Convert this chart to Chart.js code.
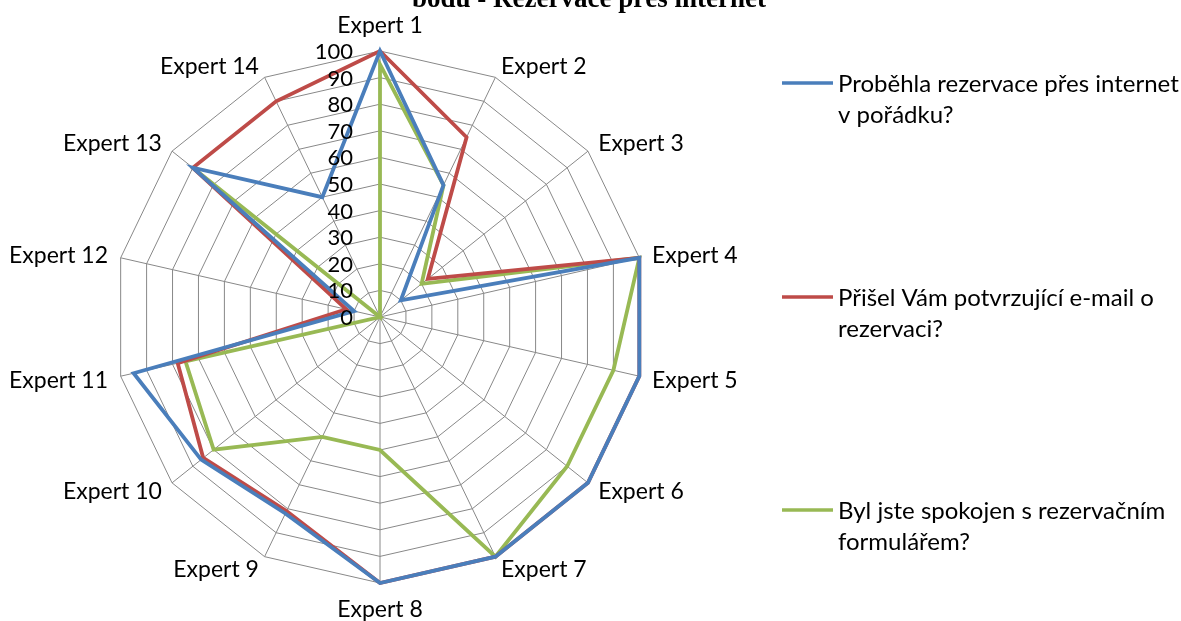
<!DOCTYPE html>
<html>
<head>
<meta charset="utf-8">
<script src="https://cdn.jsdelivr.net/npm/chart.js@4.4.0/dist/chart.umd.min.js"></script>
<style>
  html, body { margin: 0; padding: 0; background: #ffffff; }
  #wrap { width: 1181px; height: 621px; position: relative; overflow: hidden; }
</style>
</head>
<body>
<div id="wrap"><canvas id="chart" width="1181" height="621"></canvas></div>
<script>
// Experts on the radar axes
const categories = ['Expert 1', 'Expert 2', 'Expert 3', 'Expert 4', 'Expert 5', 'Expert 6', 'Expert 7',
                    'Expert 8', 'Expert 9', 'Expert 10', 'Expert 11', 'Expert 12', 'Expert 13', 'Expert 14'];

// Score tick labels on the radial axis
const tickValues = [0, 10, 20, 30, 40, 50, 60, 70, 80, 90, 100];

// Series names (wrapped over two lines in the legend)
const seriesNames = [
  ['Proběhla rezervace přes internet', 'v pořádku?'],
  ['Přišel Vám potvrzující e-mail o', 'rezervaci?'],
  ['Byl jste spokojen s rezervačním', 'formulářem?']
];

// Points given by each expert
const rezervaceOk      = [100, 55, 10, 100, 100, 100, 100, 100, 82, 86, 95, 10, 90, 50];
const potvrzujiciEmail = [100, 75, 23, 100, 100, 100, 100, 100, 81, 85, 78, 13, 90, 90];
const spokojenFormular = [ 95, 55, 20, 100,  90,  90, 100,  50, 50, 80, 75,  0, 90,  0];

const seriesColors = ['#4A7EBB', '#BE4B48', '#98B954'];
const titleText = 'bodů - Rezervace přes internet';

const labelFont = 'Lato';
const gridColor = '#888888';

// Title at the top edge of the page
const titlePlugin = {
  id: 'topTitle',
  afterDraw(chart) {
    const ctx = chart.ctx;
    ctx.save();
    ctx.font = 'bold 27px "Liberation Serif", "Times New Roman", serif';
    ctx.fillStyle = '#000';
    ctx.textAlign = 'center';
    ctx.textBaseline = 'alphabetic';
    ctx.fillText(titleText, 589, 7);
    ctx.restore();
  }
};

// Category names placed just outside the end of each axis
const axisLabelPlugin = {
  id: 'axisLabels',
  afterDraw(chart) {
    const scale = chart.scales.r;
    const ctx = chart.ctx;
    ctx.save();
    ctx.font = '23px ' + labelFont;
    ctx.fillStyle = '#000';
    ctx.textBaseline = 'middle';
    categories.forEach((name, i) => {
      const p = scale.getPointPosition(i, scale.drawingArea + 13);
      const dx = p.x - scale.xCenter;
      let y = p.y + 1;
      if (Math.abs(dx) < 1) {
        ctx.textAlign = 'center';
        y += (p.y < scale.yCenter) ? -13 : 13;
      } else {
        ctx.textAlign = dx > 0 ? 'left' : 'right';
      }
      ctx.fillText(name, p.x, y);
    });
    ctx.restore();
  }
};

// Value labels drawn along the first axis, right-aligned beside it
const tickPlugin = {
  id: 'sideTicks',
  afterDatasetsDraw(chart) {
    const scale = chart.scales.r;
    const ctx = chart.ctx;
    ctx.save();
    ctx.font = '22px ' + labelFont;
    ctx.fillStyle = '#000';
    ctx.textAlign = 'right';
    ctx.textBaseline = 'middle';
    tickValues.forEach(v => {
      const p = scale.getPointPositionForValue(0, v);
      ctx.fillText(String(v), p.x - 27, p.y + 1);
    });
    ctx.restore();
  }
};

// Legend on the right: a line sample followed by the wrapped series name
const legendPlugin = {
  id: 'sideLegend',
  afterDraw(chart) {
    const ctx = chart.ctx;
    const rowsY = [83, 297, 510];
    ctx.save();
    ctx.font = '24px ' + labelFont;
    ctx.textAlign = 'left';
    ctx.textBaseline = 'middle';
    chart.data.datasets.forEach((ds, i) => {
      const y = rowsY[i];
      ctx.strokeStyle = ds.borderColor;
      ctx.lineWidth = 3.5;
      ctx.beginPath();
      ctx.moveTo(782, y);
      ctx.lineTo(833, y);
      ctx.stroke();
      ctx.fillStyle = '#000';
      seriesNames[i].forEach((line, k) => ctx.fillText(line, 838, y + 1 + k * 31));
    });
    ctx.restore();
  }
};

const datasets = [rezervaceOk, potvrzujiciEmail, spokojenFormular].map((vals, i) => ({
  label: seriesNames[i].join(' '),
  data: vals,
  borderColor: seriesColors[i],
  backgroundColor: 'rgba(0,0,0,0)',
  borderWidth: 3.8,
  fill: false,
  pointRadius: 0,
  pointHoverRadius: 0,
  tension: 0
}));

new Chart(document.getElementById('chart'), {
  type: 'radar',
  data: { labels: categories, datasets },
  plugins: [titlePlugin, axisLabelPlugin, tickPlugin, legendPlugin],
  options: {
    responsive: false,
    animation: false,
    devicePixelRatio: 1,
    layout: { padding: { top: 51, bottom: 38, left: 114, right: 535 } },
    plugins: { legend: { display: false }, tooltip: { enabled: false }, title: { display: false } },
    scales: {
      r: {
        min: 0,
        max: 100,
        startAngle: 0,
        ticks: { stepSize: 10, display: false },
        grid: { color: gridColor, lineWidth: 1 },
        angleLines: { color: gridColor, lineWidth: 1 },
        pointLabels: { display: false }
      }
    }
  }
});
</script>
</body>
</html>
